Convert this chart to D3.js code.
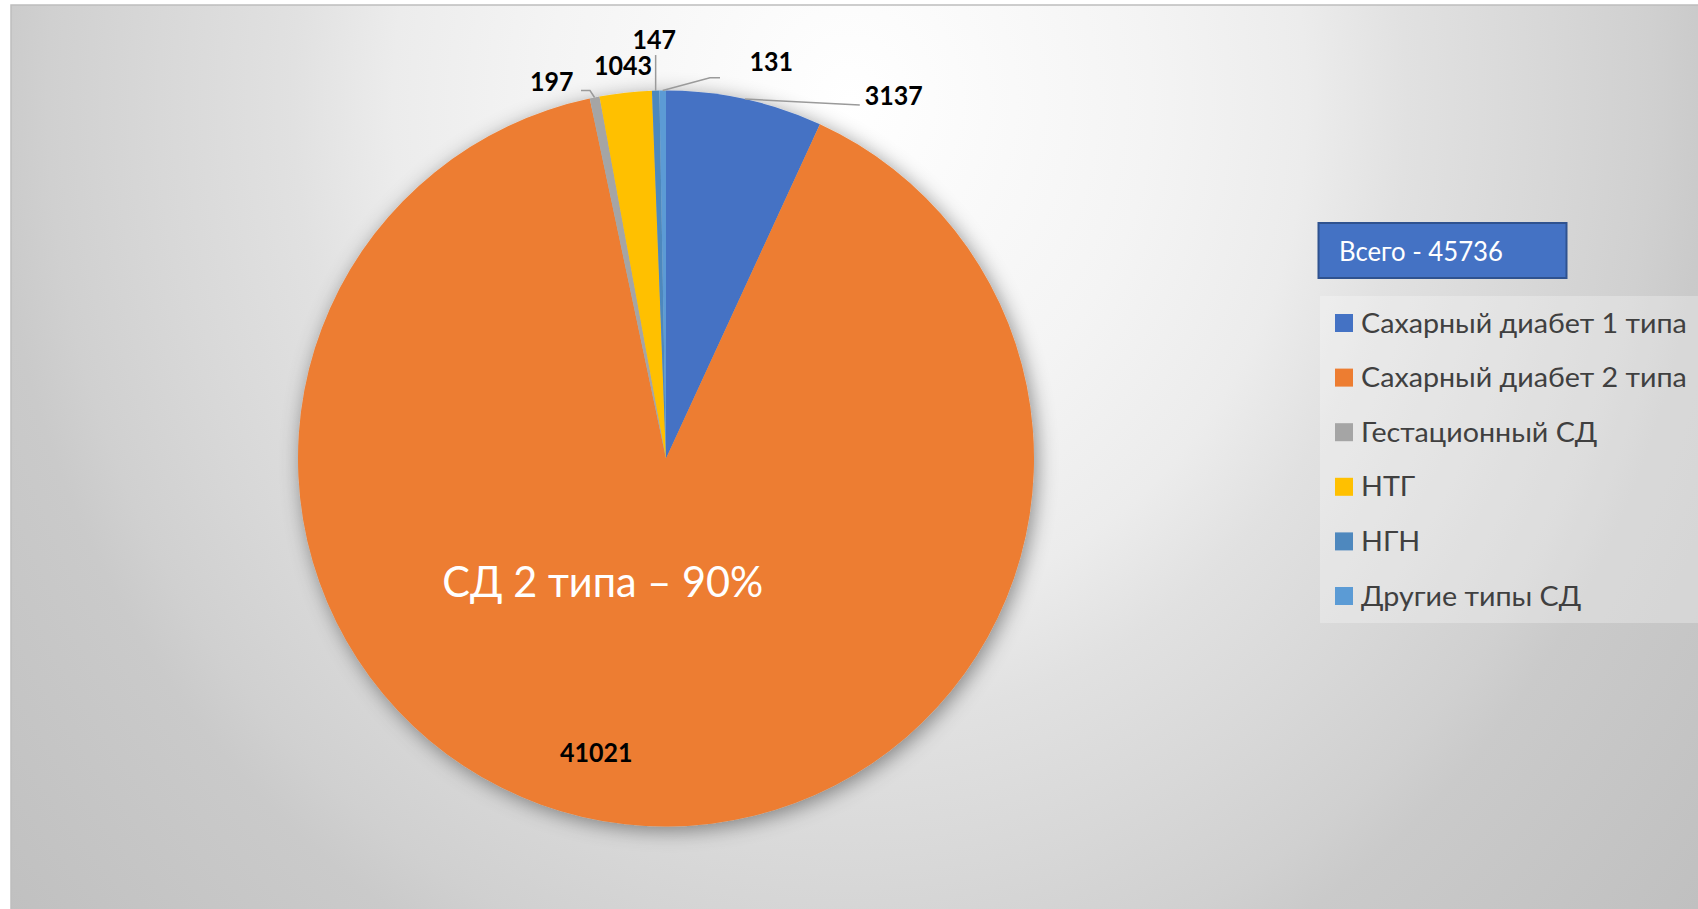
<!DOCTYPE html>
<html>
<head>
<meta charset="utf-8">
<script src="https://cdn.jsdelivr.net/npm/d3@7"></script>
<style>
  html, body { margin: 0; padding: 0; background: #ffffff; overflow: hidden; }
  svg { display: block; }
</style>
</head>
<body>
<svg id="chart" width="1698" height="909"></svg>
<script>
// ---------- DATA ----------
const categories = ["Сахарный диабет 1 типа", "Сахарный диабет 2 типа", "Гестационный СД", "НТГ", "НГН", "Другие типы СД"];
const values = [3137, 41021, 197, 1043, 147, 131];
const colors = ["#4472C4", "#ED7D31", "#A5A5A5", "#FFC000", "#4E88BE", "#5B9BD5"];
const totalLabel = "Всего - 45736";
const noteLabel = "СД 2 типа – 90%";

// ---------- LAYOUT ----------
const W = 1698, H = 909;
const cx = 666, cy = 458.5, R = 368;
const FONT = "Lato, 'Noto Sans', 'Open Sans', sans-serif";
// label placement relative to the slice's outer-edge point (dx to label centre, dy to baseline)
const labelLayout = [
  { dx: 149, dy: 6, leader: [[0, 0], [115, 6]] },
  { dx: -28.8, dy: -62.5, leader: null },
  { dx: -42.9, dy: -6, leader: [[0, 0], [-4.6, -7], [-13.6, -7]] },
  { dx: -2.6, dy: -17.7, leader: null },
  { dx: -1.5, dy: -41.6, leader: [[0, 0], [0, -35.6]] },
  { dx: 108.5, dy: -19.5, leader: [[0, 0], [47.3, -12.8], [57.3, -12.8]] }
];

const svg = d3.select("#chart");
const defs = svg.append("defs");

// background gradient
const grad = defs.append("radialGradient")
  .attr("id", "bg")
  .attr("gradientUnits", "userSpaceOnUse")
  .attr("cx", 850).attr("cy", 100).attr("r", 1114)
  .attr("fx", 850).attr("fy", 100)
  .attr("gradientTransform", "translate(850,100) scale(1,1.118) translate(-850,-100)");
[[0, "#ffffff"], [0.27, "#f4f4f4"], [0.41, "#ececec"], [0.5, "#e1e1e1"], [0.62, "#d8d8d8"],
 [0.72, "#d0d0d0"], [0.77, "#cacaca"], [1, "#c0c0c0"]].forEach(([o, c]) =>
  grad.append("stop").attr("offset", o).attr("stop-color", c));

const shadow = defs.append("filter").attr("id", "shadow")
  .attr("x", "-20%").attr("y", "-20%").attr("width", "140%").attr("height", "140%");
shadow.append("feDropShadow").attr("dx", 3).attr("dy", 4).attr("stdDeviation", 10)
  .attr("flood-color", "#000").attr("flood-opacity", 0.42);

svg.append("rect").attr("x", 11).attr("y", 5).attr("width", W).attr("height", H)
  .attr("fill", "url(#bg)").attr("stroke", "#bdbdbd").attr("stroke-width", 1.5);

// horizontal squeeze so the text reaches the target width at the given size
function squeeze(text, weight, size, target) {
  const t = svg.append("text").attr("font-family", FONT).attr("font-weight", weight)
    .attr("font-size", size).text(text);
  const w = t.node().getComputedTextLength();
  t.remove();
  return target / w;
}
function addText(parent, x, y, text, o) {
  return parent.append("text")
    .attr("transform", `translate(${x},${y}) scale(${o.sx},1)`)
    .attr("text-anchor", o.anchor || "start")
    .attr("font-family", FONT).attr("font-weight", o.weight || 400)
    .attr("font-size", o.size).attr("fill", o.fill)
    .text(text);
}

// ---------- PIE ----------
const pie = d3.pie().sort(null).value(d => d);
const arcs = pie(values);
const arc = d3.arc().innerRadius(0).outerRadius(R);
const edge = d3.arc().innerRadius(R).outerRadius(R);

const g = svg.append("g").attr("transform", `translate(${cx},${cy})`);
g.append("g").attr("filter", "url(#shadow)")
  .selectAll("path").data(arcs).join("path")
  .attr("d", arc)
  .attr("fill", (d, i) => colors[i]);

// note inside the big slice
const noteSize = 43;
addText(svg, 602.8, 597, noteLabel,
  { sx: squeeze(noteLabel, 400, noteSize, 321), anchor: "middle", size: noteSize, fill: "#ffffff" });

// data labels + leader lines
const lblSize = 27.5;
const lblSx = squeeze("3137", 700, lblSize, 58);
const line = d3.line();
arcs.forEach((d, i) => {
  const [ex, ey] = edge.centroid(d);
  const L = labelLayout[i];
  if (L.leader) {
    g.append("path")
      .attr("d", line(L.leader.map(([a, b]) => [ex + a, ey + b])))
      .attr("fill", "none").attr("stroke", "#9a9a9a").attr("stroke-width", 1.5);
  }
  addText(g, ex + L.dx, ey + L.dy, d3.format("d")(values[i]),
    { sx: lblSx, anchor: "middle", size: lblSize, weight: 700, fill: "#000000" });
});

// ---------- LEGEND ----------
svg.append("rect").attr("x", 1318.5).attr("y", 223).attr("width", 248).attr("height", 55)
  .attr("fill", "#4472C4").attr("stroke", "#2F528F").attr("stroke-width", 2);
const totSize = 26.5;
addText(svg, 1339, 261, totalLabel,
  { sx: squeeze(totalLabel, 400, totSize, 164), size: totSize, fill: "#ffffff" });

svg.append("rect").attr("x", 1320).attr("y", 296).attr("width", 400).attr("height", 327)
  .attr("fill", "#ffffff").attr("fill-opacity", 0.28);

const legSize = 27.5;
const legSx = squeeze(categories[0], 400, legSize, 326);
const ly = d3.scalePoint().domain(categories).range([323, 596]);
const items = svg.append("g").selectAll("g").data(categories).join("g")
  .attr("transform", d => `translate(0,${ly(d)})`);
items.append("rect").attr("x", 1335).attr("y", -9).attr("width", 18).attr("height", 18)
  .attr("fill", (d, i) => colors[i]);
items.each(function (d) {
  addText(d3.select(this), 1361, 9.5, d, { sx: legSx, size: legSize, fill: "#404040" });
});
</script>
</body>
</html>
